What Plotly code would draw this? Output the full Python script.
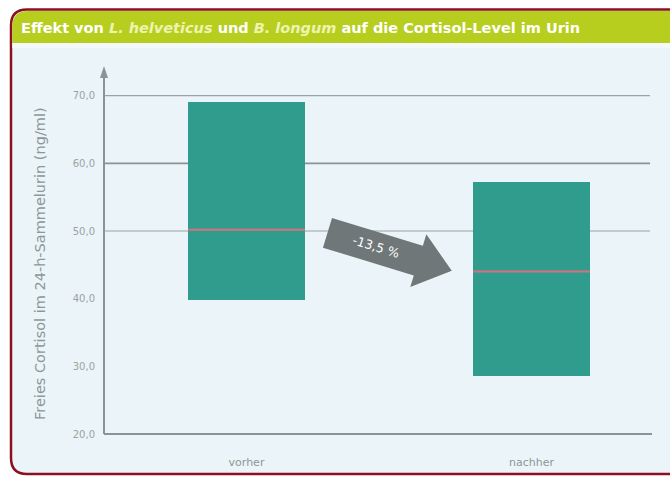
import plotly.graph_objects as go
import math

# ---- data ----
categories = ["vorher", "nachher"]
bar_low = [39.8, 28.6]
bar_high = [69.0, 57.3]
median = [50.2, 44.0]
ytick_vals = [20, 30, 40, 50, 60, 70]
ytick_text = ["20,0", "30,0", "40,0", "50,0", "60,0", "70,0"]
grid_vals = [50, 60, 70]
change_label = "-13,5 %"
title_html = ("<b>Effekt von <i><span style='color:#eef4b0'>L. helveticus</span></i> und "
              "<i><span style='color:#eef4b0'>B. longum</span></i> auf die Cortisol-Level im Urin</b>")
ytitle = "Freies Cortisol im 24-h-Sammelurin (ng/ml)"

W, H = 670, 477
PL, PR, PT, PB = 104, 652, 72, 434
YMIN, YMAX = 20, 73.5
XMIN, XMAX = -0.5, 1.423
BARW = 0.41

def px(x):
    return (x - PL) / (PR - PL)

def py(y):
    return (PB - y) / (PB - PT)

xs = list(range(len(categories)))
fig = go.Figure()
fig.add_trace(go.Bar(
    x=xs, y=[h - l for h, l in zip(bar_high, bar_low)], base=bar_low,
    width=BARW, marker=dict(color="#2f9c8e", line=dict(width=0)),
    hoverinfo="skip", showlegend=False))
for i, m in enumerate(median):
    fig.add_trace(go.Scatter(
        x=[xs[i] - BARW / 2, xs[i] + BARW / 2], y=[m, m], mode="lines",
        line=dict(color="#d9707c", width=2), hoverinfo="skip", showlegend=False))

shapes = []

def card_path(x0, y0, x1, y1, r):
    X0, Y0, X1, Y1 = px(x0), py(y0), px(x1), py(y1)
    rx = r / (PR - PL)
    ry = r / (PB - PT)
    return (f"M {X0+rx},{Y0} L {X1},{Y0} L {X1},{Y1} L {X0+rx},{Y1} "
            f"Q {X0},{Y1} {X0},{Y1+ry} L {X0},{Y0-ry} Q {X0},{Y0} {X0+rx},{Y0} Z")

shapes.append(dict(type="path", xref="paper", yref="paper", layer="below",
                   path=card_path(11, 9.5, 690, 474, 16),
                   fillcolor="#ebf4f8", line=dict(color="#8c1020", width=2.5)))
# title band
shapes.append(dict(type="path", xref="paper", yref="paper", layer="below",
                   path=(f"M {px(12.3)},{py(27)} Q {px(12.3)},{py(11)} {px(28)},{py(11)} "
                         f"L {px(670)},{py(11)} L {px(670)},{py(43)} L {px(12.3)},{py(43)} Z"),
                   fillcolor="#b7ce1f", line=dict(width=0)))
shapes.append(dict(type="rect", xref="paper", yref="paper", layer="below",
                   x0=px(12.3), x1=px(670), y0=py(48), y1=py(43),
                   fillcolor="#f3f9fb", line=dict(width=0)))
# gridlines
for g in grid_vals:
    shapes.append(dict(type="line", xref="paper", yref="y", layer="below",
                       x0=0, x1=px(650), y0=g, y1=g,
                       line=dict(color="#9aa3a5" if g != 60 else "#8a9294",
                                 width=1.2 if g != 60 else 1.6)))
# axes
shapes.append(dict(type="line", xref="paper", yref="paper", x0=0, x1=0, y0=0, y1=py(72),
                   line=dict(color="#8a9496", width=2)))
shapes.append(dict(type="path", xref="paper", yref="paper",
                   path=f"M {px(100)},{py(78)} L {px(104)},{py(66)} L {px(108)},{py(78)} Z",
                   fillcolor="#8a9496", line=dict(width=0)))
shapes.append(dict(type="line", xref="paper", yref="paper", x0=0, x1=px(652), y0=0, y1=0,
                   line=dict(color="#8a9496", width=2)))
# change arrow
ang = math.radians(17)
u = (math.cos(ang), math.sin(ang))
n = (-math.sin(ang), math.cos(ang))
A = (332, 218)
bw, bl, hf, hl = 31, 95, 12, 35
B = (A[0] + bw * n[0], A[1] + bw * n[1])
C = (A[0] + bl * u[0], A[1] + bl * u[1])
D = (B[0] + bl * u[0], B[1] + bl * u[1])
E = (C[0] - hf * n[0], C[1] - hf * n[1])
F = (D[0] + hf * n[0], D[1] + hf * n[1])
G = ((C[0] + D[0]) / 2 + hl * u[0], (C[1] + D[1]) / 2 + hl * u[1])
pts = [A, C, E, G, F, D, B]
path = "M " + " L ".join(f"{px(p[0])},{py(p[1])}" for p in pts) + " Z"
shapes.append(dict(type="path", xref="paper", yref="paper", path=path,
                   fillcolor="#6f7778", line=dict(width=0)))

annotations = [
    dict(text=title_html, xref="paper", yref="paper", x=px(19), y=py(28),
         xanchor="left", yanchor="middle", showarrow=False,
         font=dict(family="DejaVu Sans", size=14.5, color="white")),
    dict(text=ytitle, xref="paper", yref="paper", x=px(40), y=py(264), textangle=-90,
         xanchor="center", yanchor="middle", showarrow=False,
         font=dict(family="DejaVu Sans", size=14.5, color="#8d9799")),
    dict(text=change_label, xref="paper", yref="paper",
         x=px((A[0] + D[0]) / 2 + 3), y=py((A[1] + D[1]) / 2), textangle=17,
         xanchor="center", yanchor="middle", showarrow=False,
         font=dict(family="DejaVu Sans", size=12.5, color="white")),
]

fig.update_layout(
    width=W, height=H,
    margin=dict(l=PL, r=W - PR, t=PT, b=H - PB, autoexpand=False),
    paper_bgcolor="white", plot_bgcolor="rgba(0,0,0,0)",
    shapes=shapes, annotations=annotations, bargap=0,
    xaxis=dict(range=[XMIN, XMAX], tickvals=xs, ticktext=categories, showgrid=False,
               zeroline=False, showline=False, ticks="outside", ticklen=18,
               tickcolor="rgba(0,0,0,0)", automargin=False,
               tickfont=dict(family="DejaVu Sans", size=11, color="#8d9799")),
    yaxis=dict(range=[YMIN, YMAX], tickvals=ytick_vals, ticktext=ytick_text, showgrid=False,
               zeroline=False, showline=False, ticks="outside", ticklen=6,
               tickcolor="rgba(0,0,0,0)", automargin=False,
               tickfont=dict(family="DejaVu Sans", size=10, color="#9aa3a5")),
)
fig.write_html("out.html")
